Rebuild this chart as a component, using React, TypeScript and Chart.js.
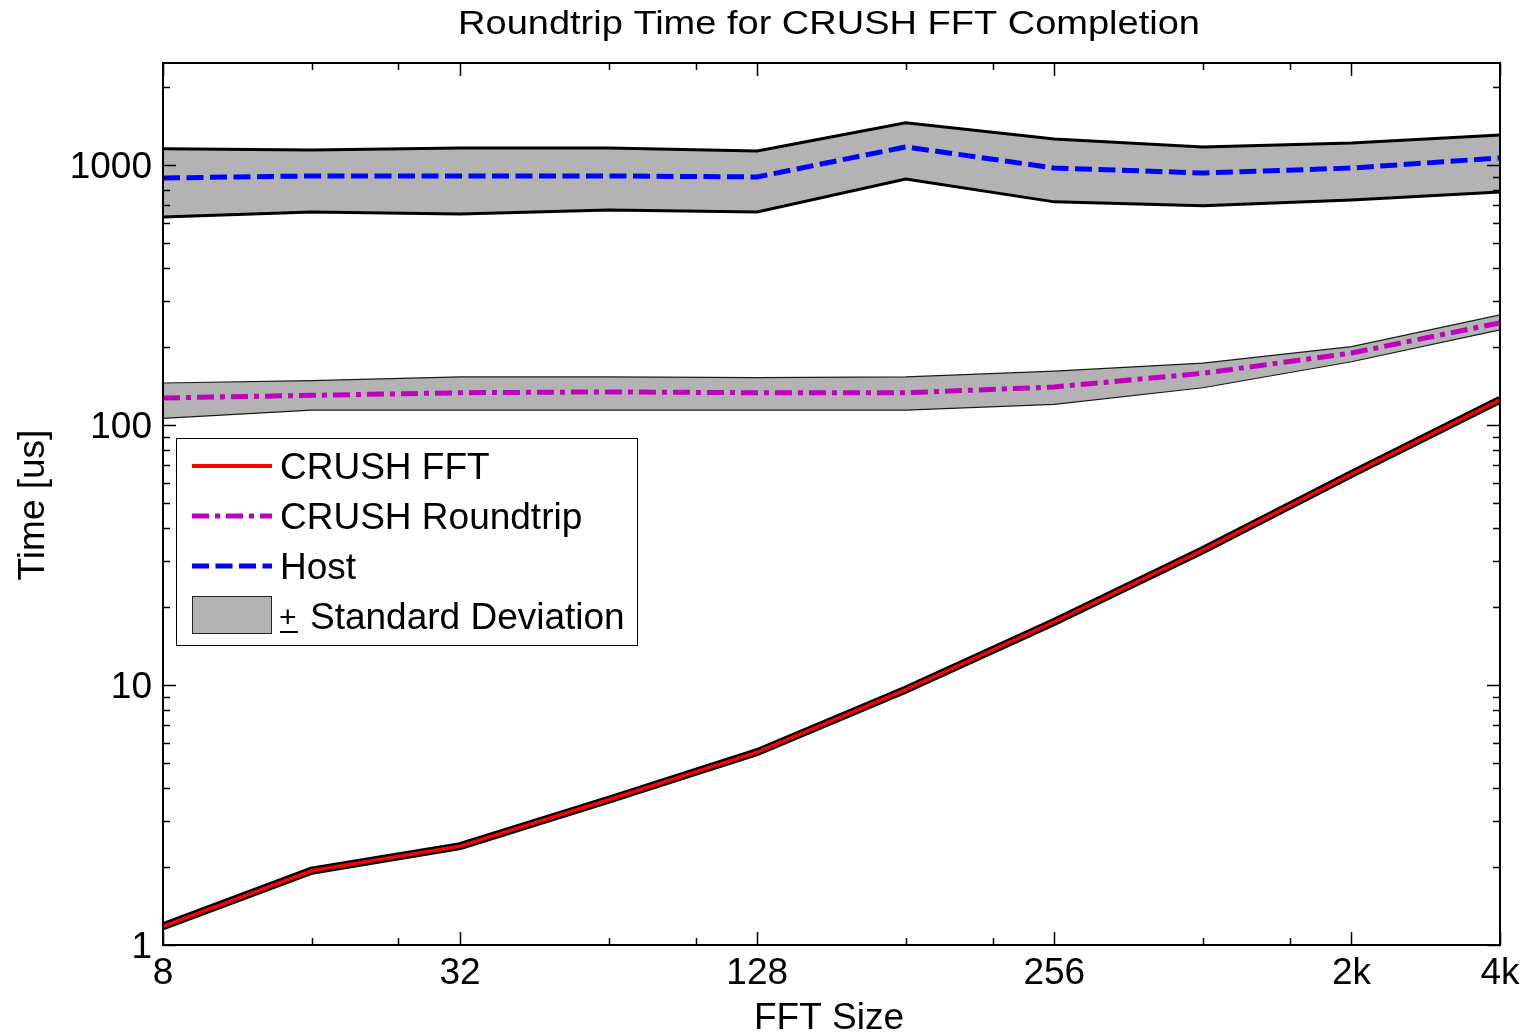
import React, { useEffect, useRef } from 'react';
import { Chart, registerables } from 'chart.js';

Chart.register(...registerables);

// ---- data ----
const xIndex = [0, 1, 2, 3, 4, 5, 6, 7, 8, 9];
const majorTickPos = [0, 2, 4, 6, 8, 9];
const majorTickLabels = ['8', '32', '128', '256', '2k', '4k'];
const minorTickPos = [1, 1.585, 3, 3.585, 5, 5.585, 7, 7.585];
const yTickValues = [1, 10, 100, 1000];

const fftTime = [1.18, 1.93, 2.4, 3.62, 5.52, 9.6, 17.5, 33, 64.8, 125];
const roundtripTime = [127, 130, 133, 134, 133, 133, 140, 158, 189, 247];
const roundtripUpper = [145, 148, 153, 153, 152, 153, 161, 173, 200, 265];
const roundtripLower = [106, 114, 114, 114, 114, 114, 120, 139, 175, 232];
const hostTime = [891, 907, 907, 907, 899, 1173, 973, 931, 973, 1064];
const hostUpper = [1153, 1142, 1162, 1162, 1132, 1452, 1259, 1173, 1215, 1304];
const hostLower = [631, 659, 648, 671, 659, 883, 721, 696, 733, 787];

const titleText = 'Roundtrip Time for CRUSH FFT Completion';
const xTitle = 'FFT Size';
const yTitle = 'Time [us]';
const legendLabels = ['CRUSH FFT', 'CRUSH Roundtrip', 'Host', 'Standard Deviation'];

const FONT = '"Liberation Sans", Arial, Helvetica, sans-serif';
const GRAY = '#b3b3b3';
const RED = '#ff0000';
const MAGENTA = '#bf00bf';
const BLUE = '#0000ff';

const pts = (arr: number[]) => arr.map((v, i) => ({ x: xIndex[i], y: v }));

const decorPlugin = {
  id: 'decor',
  afterDatasetsDraw(chart: any) {
    const ctx: CanvasRenderingContext2D = chart.ctx;
    const ca = chart.chartArea;
    const xs = chart.scales.x;
    const ys = chart.scales.y;
    ctx.save();
    // frame
    ctx.strokeStyle = '#000';
    ctx.lineWidth = 2;
    ctx.strokeRect(ca.left, ca.top, ca.right - ca.left, ca.bottom - ca.top);
    // x ticks (bottom and top, inward)
    ctx.lineWidth = 1.5;
    ctx.beginPath();
    const drawX = (v: number, len: number) => {
      const px = Math.round(xs.getPixelForValue(v)) + 0.5;
      ctx.moveTo(px, ca.bottom);
      ctx.lineTo(px, ca.bottom - len);
      ctx.moveTo(px, ca.top);
      ctx.lineTo(px, ca.top + len);
    };
    majorTickPos.forEach((v) => drawX(v, 13));
    minorTickPos.forEach((v) => drawX(v, 7));
    // y ticks (left and right, inward)
    const drawY = (v: number, len: number) => {
      const py = Math.round(ys.getPixelForValue(v)) + 0.5;
      if (py < ca.top - 1 || py > ca.bottom + 1) return;
      ctx.moveTo(ca.left, py);
      ctx.lineTo(ca.left + len, py);
      ctx.moveTo(ca.right, py);
      ctx.lineTo(ca.right - len, py);
    };
    yTickValues.forEach((v) => drawY(v, 13));
    yTickValues.forEach((d) => {
      for (let k = 2; k <= 9; k++) drawY(d * k, 7);
    });
    ctx.stroke();

    // legend
    const lx = 176.5, ly = 438.5, lw = 461, lh = 207;
    ctx.fillStyle = '#fff';
    ctx.fillRect(lx, ly, lw, lh);
    ctx.strokeStyle = '#000';
    ctx.lineWidth = 1;
    ctx.strokeRect(lx, ly, lw, lh);
    const rows = [466, 516, 566, 616];
    const sx0 = 192, sx1 = 272;
    ctx.lineCap = 'butt';
    // red solid
    ctx.strokeStyle = RED; ctx.lineWidth = 4; ctx.setLineDash([]);
    ctx.beginPath(); ctx.moveTo(sx0, rows[0]); ctx.lineTo(sx1, rows[0]); ctx.stroke();
    // magenta dash-dot
    ctx.strokeStyle = MAGENTA; ctx.lineWidth = 5; ctx.setLineDash([17, 6, 5, 6]);
    ctx.beginPath(); ctx.moveTo(sx0, rows[1]); ctx.lineTo(sx1, rows[1]); ctx.stroke();
    // blue dashed
    ctx.strokeStyle = BLUE; ctx.lineWidth = 5; ctx.setLineDash([17, 6.5]);
    ctx.beginPath(); ctx.moveTo(sx0, rows[2]); ctx.lineTo(sx1, rows[2]); ctx.stroke();
    ctx.setLineDash([]);
    // gray patch
    ctx.fillStyle = GRAY;
    ctx.fillRect(192.5, 596.5, 79, 37);
    ctx.strokeStyle = '#222'; ctx.lineWidth = 1;
    ctx.strokeRect(192.5, 596.5, 79, 37);
    // legend texts
    ctx.fillStyle = '#000';
    ctx.font = `37px ${FONT}`;
    ctx.textBaseline = 'middle';
    ctx.textAlign = 'left';
    ctx.fillText(legendLabels[0], 280, rows[0] + 3);
    ctx.fillText(legendLabels[1], 280, rows[1] + 3);
    ctx.fillText(legendLabels[2], 280, rows[2] + 3);
    // ± sign (underlined plus)
    ctx.font = `30px ${FONT}`;
    ctx.fillText('+', 279, rows[3] + 3);
    ctx.fillRect(280, rows[3] + 15, 18, 2);
    ctx.font = `37px ${FONT}`;
    ctx.fillText(legendLabels[3], 310, rows[3] + 3);

    // title
    ctx.save();
    ctx.textAlign = 'center';
    ctx.textBaseline = 'alphabetic';
    ctx.font = `38px ${FONT}`;
    ctx.translate(829, 34);
    ctx.scale(1, 0.89);
    ctx.fillText(titleText, 0, 0);
    ctx.restore();

    // axis titles
    ctx.textAlign = 'center';
    ctx.textBaseline = 'alphabetic';
    ctx.font = `37px ${FONT}`;
    ctx.fillText(xTitle, 829, 1029);
    ctx.save();
    ctx.translate(44, 505);
    ctx.rotate(-Math.PI / 2);
    ctx.fillText(yTitle, 0, 0);
    ctx.restore();
    ctx.restore();
  },
};

export default function App() {
  const ref = useRef<HTMLCanvasElement | null>(null);
  useEffect(() => {
    if (!ref.current) return;
    const base = { pointRadius: 0, tension: 0, borderCapStyle: 'butt', borderJoinStyle: 'miter' };
    const chart = new Chart(ref.current, {
      type: 'line',
      data: {
        datasets: [
          { ...base, label: 'hostUpper', data: pts(hostUpper), borderColor: '#000', borderWidth: 3, backgroundColor: GRAY, fill: 1, order: 6 },
          { ...base, label: 'hostLower', data: pts(hostLower), borderColor: '#000', borderWidth: 3, fill: false, order: 5 },
          { ...base, label: 'rtUpper', data: pts(roundtripUpper), borderColor: '#1a1a1a', borderWidth: 1.2, backgroundColor: GRAY, fill: 3, order: 6 },
          { ...base, label: 'rtLower', data: pts(roundtripLower), borderColor: '#1a1a1a', borderWidth: 1.2, fill: false, order: 5 },
          { ...base, label: 'fftBand', data: pts(fftTime), borderColor: '#000', borderWidth: 8, fill: false, order: 3 },
          { ...base, label: legendLabels[0], data: pts(fftTime), borderColor: RED, borderWidth: 3.5, fill: false, order: 0 },
          { ...base, label: legendLabels[1], data: pts(roundtripTime), borderColor: MAGENTA, borderWidth: 5, borderDash: [17, 6, 5, 6], fill: false, order: 0 },
          { ...base, label: legendLabels[2], data: pts(hostTime), borderColor: BLUE, borderWidth: 5, borderDash: [17, 6.5], fill: false, order: 0 },
        ] as any,
      },
      options: {
        animation: false,
        responsive: false,
        devicePixelRatio: 1,
        parsing: false as any,
        layout: { padding: { top: 63, right: 30, left: 0, bottom: 0 } },
        plugins: { legend: { display: false }, tooltip: { enabled: false }, title: { display: false } },
        scales: {
          x: {
            type: 'linear',
            min: 0,
            max: 9,
            grid: { display: false, drawTicks: false },
            border: { display: false },
            afterBuildTicks: (scale: any) => {
              scale.ticks = majorTickPos.map((v) => ({ value: v }));
            },
            afterFit: (scale: any) => {
              scale.height = 89;
            },
            ticks: {
              autoSkip: false,
              maxRotation: 0,
              padding: 7,
              color: '#000',
              font: { family: FONT, size: 37 },
              callback: (v: any) => {
                const i = majorTickPos.indexOf(Number(v));
                return i >= 0 ? majorTickLabels[i] : '';
              },
            },
          },
          y: {
            type: 'logarithmic',
            min: 1,
            max: 2466,
            grid: { display: false, drawTicks: false },
            border: { display: false },
            afterBuildTicks: (scale: any) => {
              scale.ticks = yTickValues.map((v) => ({ value: v }));
            },
            afterFit: (scale: any) => {
              scale.width = 163;
            },
            ticks: {
              autoSkip: false,
              padding: 11,
              labelOffset: 3,
              color: '#000',
              font: { family: FONT, size: 37 },
              callback: (v: any) => String(v),
            },
          },
        },
      } as any,
      plugins: [decorPlugin],
    });
    return () => chart.destroy();
  }, []);
  return (
    <div style={{ position: 'absolute', left: 0, top: 0, width: 1530, height: 1034, background: '#fff' }}>
      <canvas ref={ref} width={1530} height={1034} style={{ display: 'block' }} />
    </div>
  );
}
